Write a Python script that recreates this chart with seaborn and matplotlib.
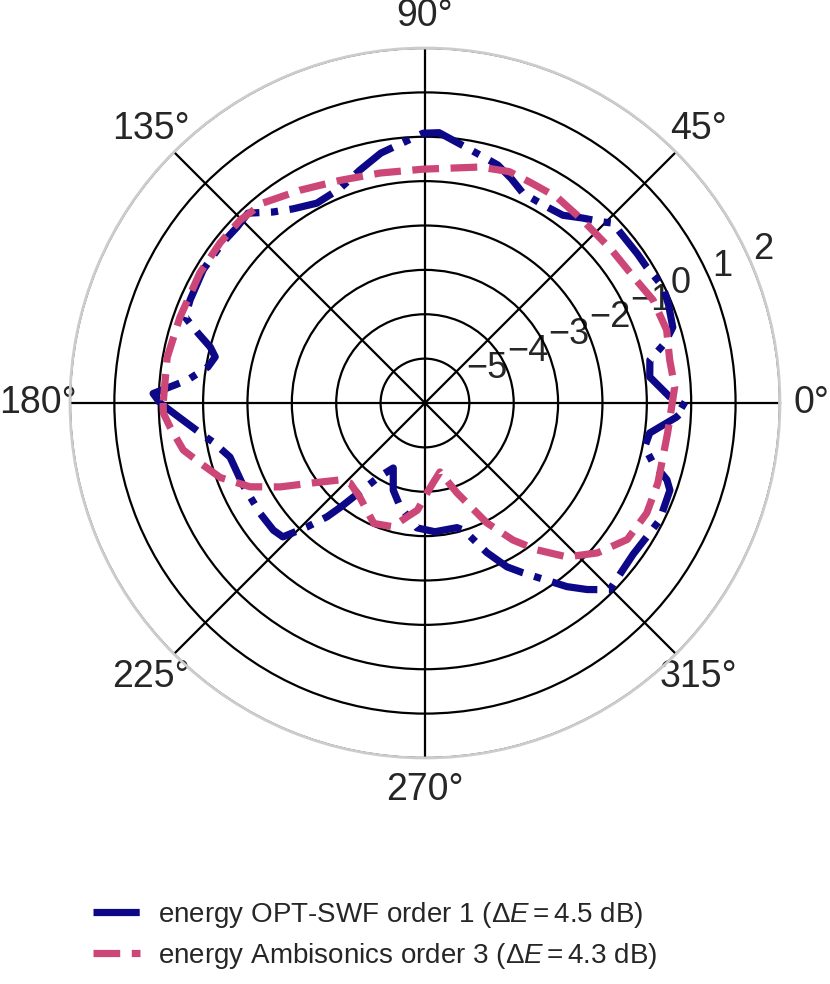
import numpy as np
import pandas as pd
import matplotlib
matplotlib.use("Agg")
import matplotlib.pyplot as plt
import seaborn as sns

# ---- data (angle in degrees, level in dB) ----
swf_angle = [-180, -176.5, -172.4, -169.6, -164.5, -156, -146, -140, -136.7, -133.6,
             -130.7, -129, -122, -116, -110, -103.5, -93.7, -85.6, -75.6, -73,
             -67.5, -63.4, -60, -52.3, -49, -45.3, -36, -31, -26.5, -19.6,
             -17.6, -14.7, -11.3, -7.6, -3.2, -0.9, 1.4, 6.6, 10.8, 14,
             17, 22, 26, 31.5, 35, 43.8, 45.5, 49.5, 53.7, 59,
             65, 69, 73, 80.4, 87, 90.4, 100, 105.6, 111.6, 118.4,
             124.2, 128.5, 133, 136.9, 141.8, 149, 156.3, 160.3, 162.9, 165.4,
             167.6, 170.6, 174.5, 178, 180]
swf_level = [-0.03, -0.47, -0.89, -1.14, -1.44, -1.5, -1.53, -1.54, -1.6, -2.14,
             -2.62, -2.98, -4.03, -4.37, -3.91, -3.6, -3.18, -3.09, -3.1, -3.0,
             -2.35, -1.87, -1.58, -0.77, -0.43, -0.08, -0.2, -0.16, -0.09, -0.14,
             -0.28, -0.69, -0.95, -0.89, -0.32, -0.1, -0.48, -0.9, -0.84, -0.43,
             -0.16, -0.08, -0.03, -0.14, -0.15, -0.14, -0.28, -0.52, -0.75, -0.8,
             -0.78, -0.58, -0.39, -0.18, 0.1, 0.08, -0.28, -0.55, -0.8, -0.88,
             -0.71, -0.5, -0.15, -0.2, -0.18, -0.17, -0.22, -0.26, -0.65, -1.0,
             -1.16, -1.04, -0.62, 0.13, -0.03]

amb_angle = [-180, -177.8, -174.6, -169, -165, -160, -154.4, -149.9, -144.5, -137.8,
             -133, -124.7, -113, -104.5, -99, -94, -88.7, -84, -77.7, -70.4,
             -62.7, -57.3, -52.7, -47.3, -41, -34, -26.4, -19, -12.8, -7,
             -0.9, 3.7, 10, 16.8, 24.3, 30, 39.3, 49.2, 57.3, 64.6,
             70, 76.9, 90.5, 101, 110.9, 120.4, 129, 135.3, 142, 150,
             160.7, 170, 180]
amb_level = [-0.1, -0.1, -0.23, -0.45, -0.76, -1.09, -1.63, -2.23, -2.9, -3.42,
             -3.53, -3.42, -3.05, -3.12, -3.4, -3.58, -3.97, -4.2, -4.41, -3.85,
             -2.96, -2.33, -1.84, -1.28, -0.85, -0.5, -0.42, -0.45, -0.5, -0.49,
             -0.44, -0.36, -0.4, -0.31, -0.36, -0.49, -0.56, -0.56, -0.49, -0.49,
             -0.45, -0.54, -0.73, -0.72, -0.63, -0.44, -0.2, -0.14, -0.14, -0.14,
             -0.15, -0.1, -0.1]

series_labels = [r"energy OPT-SWF order 1 ($\Delta E = 4.5$ dB)",
                 r"energy Ambisonics order 3 ($\Delta E = 4.3$ dB)"]
r_ticks = [-5, -4, -3, -2, -1, 0, 1, 2]
theta_ticks = [0, 45, 90, 135, 180, 225, 270, 315]

# ---- style ----
sns.set_theme(style="whitegrid")
plt.rcParams["font.family"] = ["Liberation Sans", "DejaVu Sans"]
plt.rcParams["mathtext.fontset"] = "custom"
plt.rcParams["mathtext.rm"] = "Liberation Sans"
plt.rcParams["mathtext.it"] = "Liberation Sans:italic"
plt.rcParams["axes.unicode_minus"] = True

fig = plt.figure(figsize=(8.3, 9.84), dpi=100)
ax = fig.add_axes([0.0843, 0.2297, 0.8554, 0.7215], projection="polar")

df1 = pd.DataFrame({"theta": np.deg2rad(swf_angle), "r": swf_level})
df2 = pd.DataFrame({"theta": np.deg2rad(amb_angle), "r": amb_level})

lw = 5.2
sns.lineplot(data=df1, x="theta", y="r", ax=ax, sort=False, estimator=None,
             color="#0d0887", linestyle="-.", linewidth=lw, label=series_labels[0], zorder=3)
sns.lineplot(data=df2, x="theta", y="r", ax=ax, sort=False, estimator=None,
             color="#cc4778", linestyle="--", linewidth=lw, label=series_labels[1], zorder=3)

ax.set_xlabel("")
ax.set_ylabel("")
ax.set_ylim(-6, 2)
ax.set_yticks(r_ticks)
ax.set_xticks(np.deg2rad(theta_ticks))
ax.set_xticklabels([f"{t}°" for t in theta_ticks])
ax.set_rlabel_position(22.5)
ax.grid(True, color="black", linewidth=1.6)
ax.set_axisbelow(True)
ax.spines["polar"].set_color("#cccccc")
ax.spines["polar"].set_linewidth(2)
ax.tick_params(axis="x", labelsize=27, pad=10, colors="#262626")
ax.tick_params(axis="y", labelsize=26, colors="#262626")
ax.set_facecolor("white")

handles, labels = ax.get_legend_handles_labels()
if ax.get_legend() is not None:
    ax.get_legend().remove()
fig.legend(handles, labels, loc="upper left", bbox_to_anchor=(0.082, 0.111),
           frameon=False, fontsize=20, handlelength=1.7, handletextpad=0.65,
           labelspacing=0.4)

fig.savefig("out.png", dpi=100)
